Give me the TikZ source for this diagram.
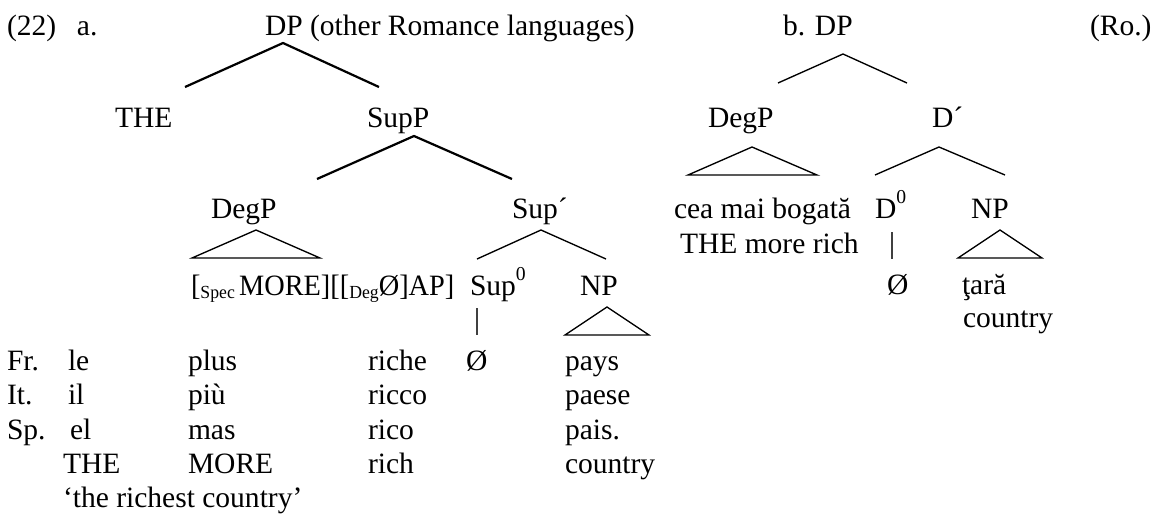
\documentclass[tikz,border=0pt]{standalone}
\usepackage{fontspec}
\setmainfont{Liberation Serif}
% lowered and raised small text
\newcommand{\lowsub}[1]{\raisebox{-0.12em}{\fontsize{7.5}{7.5}\selectfont #1}}
\newcommand{\hisup}[1]{\raisebox{0.48em}{\fontsize{8}{8}\selectfont #1}}
\begin{document}
\begin{tikzpicture}[x=0.4065pt,y=-0.4065pt,
  lbl/.style={anchor=base west,inner sep=0pt,outer sep=0pt,font=\fontsize{12}{13.8}\selectfont},
  thickbr/.style={line width=0.9pt},
  thinbr/.style={line width=0.55pt},
  stem/.style={line width=0.55pt,black!75}]
\useasboundingbox (0,0) rectangle (1159,514);

% ---------- header line ----------
\node[lbl] (num)  at (7,35)    {(22)};
\node[lbl] (ea)   at (77,35)   {a.};
\node[lbl] (dpa)  at (265,35)  {DP (other Romance languages)};
\node[lbl] (dpb)  at (783,35)  {b. DP};
\node[lbl] (ro)   at (1090,35) {(Ro.)};

% ---------- tree (a) ----------
\node[lbl] (the)   at (115,127) {THE};
\node[lbl] (supp)  at (367,127) {SupP};
\node[lbl] (degpa) at (211,218) {DegP};
\node[lbl] (supbar) at (512,218) {Sup´};
\node[lbl] (spec)  at (191,295) {\scalebox{0.96}[1]{[\lowsub{Spec}\hspace{0.15em}MORE][[\lowsub{Deg}Ø]AP]}};
\node[lbl] (sup0)  at (470,295) {Sup\hisup{0}};
\node[lbl] (npa)   at (580,295) {NP};

\coordinate (dpa-t) at (283,43);
\coordinate (dpa-l) at (185,87);
\coordinate (dpa-r) at (379,87);
\draw[thickbr] (dpa-l) -- (dpa-t) -- (dpa-r);

\coordinate (supp-t) at (414,136);
\coordinate (supp-l) at (317,179);
\coordinate (supp-r) at (512,179);
\draw[thickbr] (supp-l) -- (supp-t) -- (supp-r);

\coordinate (dega-t) at (256,230);
\coordinate (dega-l) at (192,258);
\coordinate (dega-r) at (320,258);
\draw[thinbr] (dega-l) -- (dega-t) -- (dega-r) -- cycle;

\coordinate (supbar-t) at (541,230);
\coordinate (supbar-l) at (477,259);
\coordinate (supbar-r) at (606,259);
\draw[thinbr] (supbar-l) -- (supbar-t) -- (supbar-r);

\coordinate (sup0-t) at (477,308);
\coordinate (sup0-b) at (477,335);
\draw[stem] (sup0-t) -- (sup0-b);

\coordinate (npa-t) at (607,307);
\coordinate (npa-l) at (565,335);
\coordinate (npa-r) at (649,335);
\draw[thinbr] (npa-l) -- (npa-t) -- (npa-r) -- cycle;

% ---------- gloss rows ----------
\node[lbl] (fr)    at (7,370)   {Fr.};
\node[lbl] (fr1)   at (68,370)  {le};
\node[lbl] (fr2)   at (188,370) {plus};
\node[lbl] (fr3)   at (368,370) {riche};
\node[lbl] (fr4)   at (466,370) {Ø};
\node[lbl] (fr5)   at (565,370) {pays};

\node[lbl] (it)    at (7,404.5)   {It.};
\node[lbl] (it1)   at (68,404.5)  {il};
\node[lbl] (it2)   at (188,404.5) {più};
\node[lbl] (it3)   at (368,404.5) {ricco};
\node[lbl] (it5)   at (565,404.5) {paese};

\node[lbl] (sp)    at (7,439)   {Sp.};
\node[lbl] (sp1)   at (70,439)  {el};
\node[lbl] (sp2)   at (188,439) {mas};
\node[lbl] (sp3)   at (368,439) {rico};
\node[lbl] (sp5)   at (565,439) {pais.};

\node[lbl] (gl1)   at (63,473)  {THE};
\node[lbl] (gl2)   at (188,473) {MORE};
\node[lbl] (gl3)   at (368,473) {rich};
\node[lbl] (gl5)   at (565,473) {country};

\node[lbl] (trans) at (63,507)  {‘the richest country’};

% ---------- tree (b) ----------
\node[lbl] (degpb) at (708,127) {DegP};
\node[lbl] (dbar)  at (932,127) {D´};
\node[lbl] (cea)   at (674,218) {cea mai bogată};
\node[lbl] (cea2)  at (680,253) {THE more rich};
\node[lbl] (d0)    at (875,218) {D\hisup{0}};
\node[lbl] (npb)   at (971,218) {NP};
\node[lbl] (nul)   at (887,294) {Ø};
\node[lbl] (tara)  at (962,294) {ţară};
\node[lbl] (ctry)  at (963,327) {country};

\coordinate (dpb-t) at (843,54);
\coordinate (dpb-l) at (778,83);
\coordinate (dpb-r) at (907,83);
\draw[thinbr] (dpb-l) -- (dpb-t) -- (dpb-r);

\coordinate (degb-t) at (752,147);
\coordinate (degb-l) at (688,175);
\coordinate (degb-r) at (817,175);
\draw[thinbr] (degb-l) -- (degb-t) -- (degb-r) -- cycle;

\coordinate (dbar-t) at (939,147);
\coordinate (dbar-l) at (875,175);
\coordinate (dbar-r) at (1005,175);
\draw[thinbr] (dbar-l) -- (dbar-t) -- (dbar-r);

\coordinate (d0-t) at (892,232);
\coordinate (d0-b) at (892,259);
\draw[stem] (d0-t) -- (d0-b);

\coordinate (npb-t) at (1000,230);
\coordinate (npb-l) at (958,258);
\coordinate (npb-r) at (1042,258);
\draw[thinbr] (npb-l) -- (npb-t) -- (npb-r) -- cycle;
\end{tikzpicture}
\end{document}
